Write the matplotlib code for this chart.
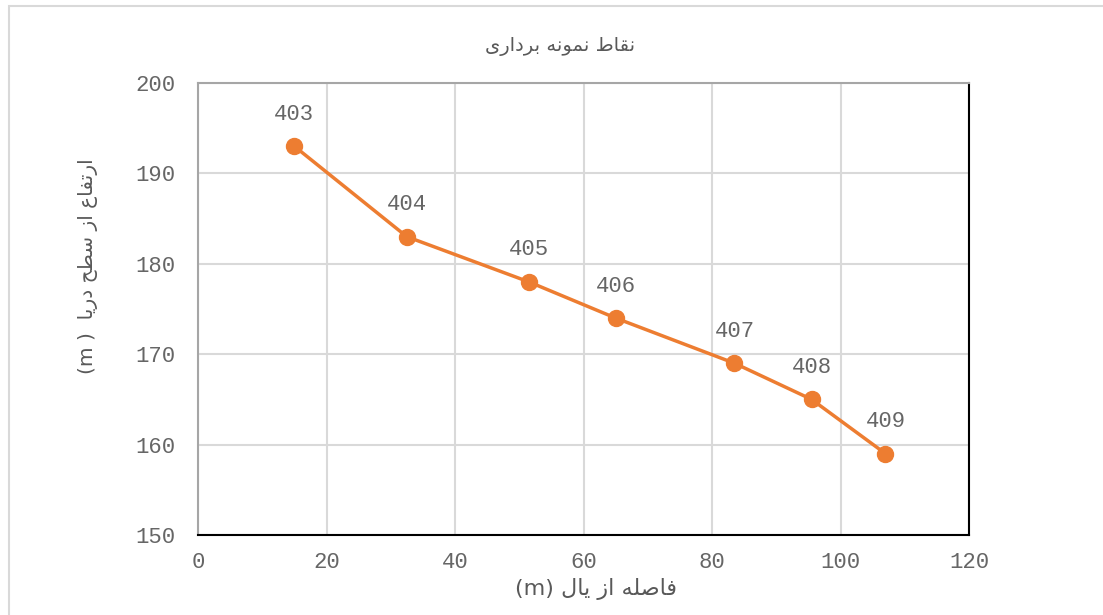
import matplotlib
matplotlib.use('Agg')
import matplotlib.pyplot as plt
from matplotlib.patches import Rectangle

# data
dist = [15, 32.5, 51.5, 65, 83.5, 95.5, 107]
elev = [193, 183, 178, 174, 169, 165, 159]
names = ['403', '404', '405', '406', '407', '408', '409']
xticks = [0, 20, 40, 60, 80, 100, 120]
yticks = [150, 160, 170, 180, 190, 200]

# Persian labels, written as presentation forms in visual (left-to-right) order
title = ('\uFEEF\uFEAD\uFE8D\uFEA9\uFEAE\uFE91 '
         '\uFEEA\uFEE7\uFEEE\uFEE4\uFEE7 '
         '\uFEC1\uFE8E\uFED8\uFEE7')
xlabel = ('(m) \uFEDD\uFE8E\uFEF3 \uFEAF\uFE8D '
          '\uFEEA\uFEE0\uFEBB\uFE8E\uFED3')
ylabel = ('(m )  \uFE8E\uFEF3\uFEAD\uFEA9 \uFEA2\uFEC4\uFEB3 '
          '\uFEAF\uFE8D \uFEC9\uFE8E\uFED4\uFE97\uFEAD\uFE8D')

orange = '#ED7D31'
txt = '#595959'
mono = 'Liberation Mono'

fig = plt.figure(figsize=(11.03, 6.15), dpi=100)
ax = fig.add_axes([198/1103, 1-535/615, (969-198)/1103, (535-83)/615])

# chart border
fig.patches.append(Rectangle((9/1103, -0.1), 1.2, 1-6/615+0.1, transform=fig.transFigure,
                             fill=False, edgecolor='#D9D9D9', lw=1.5))

ax.plot(dist, elev, color=orange, lw=2.5, marker='o', ms=11.5, zorder=3)
for x, y, n in zip(dist, elev, names):
    ax.annotate(n, (x, y), xytext=(0, 23), textcoords='offset points',
                ha='center', va='center', fontsize=16, family=mono, color='#666666')

ax.set_xlim(0, 120)
ax.set_ylim(150, 200)
ax.set_xticks(xticks)
ax.set_yticks(yticks)
ax.grid(color='#D9D9D9', lw=1.5)
ax.set_axisbelow(True)
ax.tick_params(length=0, labelsize=16, labelcolor='#666666')
ax.tick_params(axis='y', pad=16)
ax.tick_params(axis='x', pad=12)
for lab in ax.get_xticklabels() + ax.get_yticklabels():
    lab.set_family(mono)

ax.spines['top'].set_color('#A6A6A6')
ax.spines['left'].set_color('#A6A6A6')
ax.spines['right'].set_color('black')
ax.spines['bottom'].set_color('black')
for s in ax.spines.values():
    s.set_linewidth(1.5)

fig.text(560/1103, 1-47/615, title, ha='center', va='center', fontsize=14,
         family='DejaVu Sans', color=txt)
fig.text(596/1103, 1-589/615, xlabel, ha='center', va='center', fontsize=16,
         family='DejaVu Sans', color=txt)
fig.text(88/1103, 1-266/615, ylabel, ha='center', va='center', fontsize=14.5,
         family='DejaVu Sans', color=txt, rotation=90)

plt.savefig('out.png', dpi=100)
plt.close()
